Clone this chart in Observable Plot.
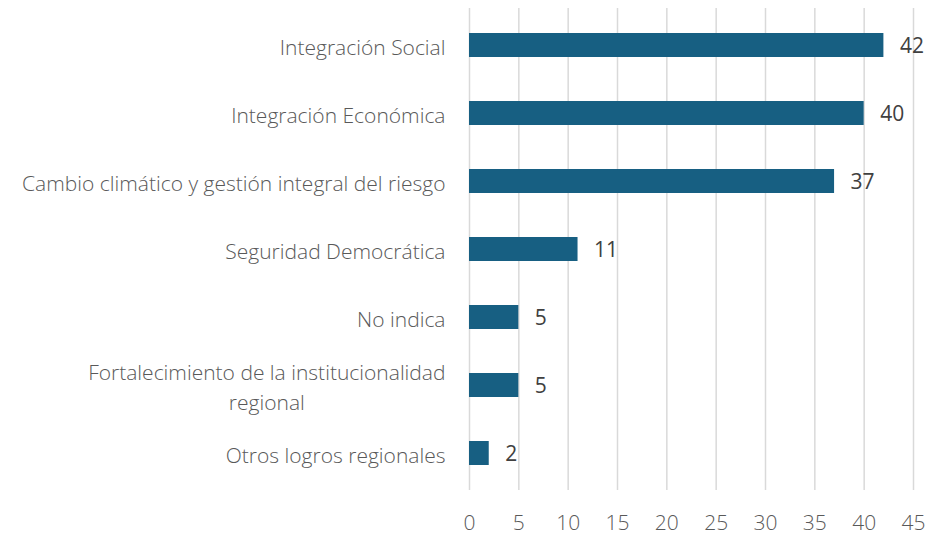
<!DOCTYPE html>
<html>
<head>
<meta charset="utf-8">
<script src="https://cdn.jsdelivr.net/npm/d3@7"></script>
<script src="https://cdn.jsdelivr.net/npm/@observablehq/plot@0.6"></script>
<style>
  html, body { margin: 0; padding: 0; background: #fff; }
  #chart { width: 927px; height: 538px; }
</style>
</head>
<body>
<div id="chart"></div>
<script>
const categories = [
  "Integración Social",
  "Integración Económica",
  "Cambio climático y gestión integral del riesgo",
  "Seguridad Democrática",
  "No indica",
  "Fortalecimiento de la institucionalidad\nregional",
  "Otros logros regionales"
];
const values = [42, 40, 37, 11, 5, 5, 2];
const xTicks = [0, 5, 10, 15, 20, 25, 30, 35, 40, 45];

const data = categories.map((c, i) => ({category: c, value: values[i]}));

const font = "'Open Sans', Roboto, 'Noto Sans', sans-serif";

const chart = Plot.plot({
  width: 927,
  height: 538,
  marginLeft: 469,
  marginRight: 14,
  marginTop: 8,
  marginBottom: 48,
  style: {fontFamily: font, background: "#fff"},
  x: {domain: [0, 45], ticks: xTicks},
  y: {domain: categories, paddingInner: 0.65, paddingOuter: 0.325, label: null},
  marks: [
    Plot.gridX(xTicks, {stroke: "#d9d9d9", strokeOpacity: 1, strokeWidth: 1.5}),
    Plot.axisX(xTicks, {tickSize: 0, tickPadding: 25, fontSize: 21, fill: "#595959", fontWeight: 300, label: null, style: {letterSpacing: "0.6px"}}),
    Plot.axisY({tickSize: 0, tickPadding: 24, fontSize: 21, fill: "#595959", fontWeight: 300, label: null, lineHeight: 1.45, style: {letterSpacing: "0.65px"}}),
    Plot.barX(data, {x: "value", y: "category", fill: "#175f82"}),
    Plot.text(data, {x: "value", y: "category", text: d => String(d.value), textAnchor: "start", dx: 16, dy: 1, fontSize: 21, fill: "#404040", fontWeight: 400, style: {letterSpacing: "0.3px"}})
  ]
});
document.getElementById("chart").appendChild(chart);

// center-align multi-line tick labels like the original
d3.select(chart).selectAll("g[aria-label='y-axis tick label'] text").each(function() {
  const t = d3.select(this);
  const spans = t.selectAll("tspan");
  if (spans.size() > 1) {
    const bb = this.getBBox();
    const cx = bb.x + bb.width / 2;
    t.attr("text-anchor", "middle");
    spans.attr("x", cx);
  }
});
</script>
</body>
</html>
